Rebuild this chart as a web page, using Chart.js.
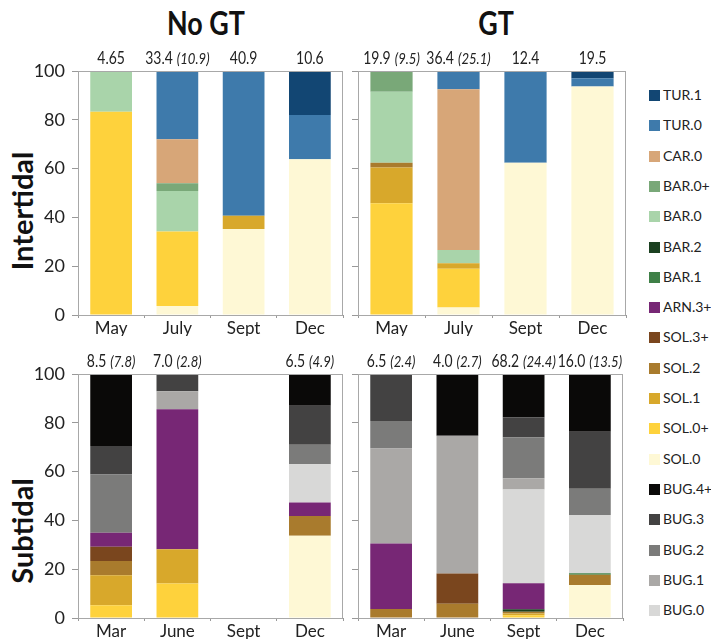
<!DOCTYPE html>
<html>
<head>
<meta charset="utf-8">
<script src="https://cdn.jsdelivr.net/npm/chart.js@4"></script>
<style>
body{margin:0;background:#fff;width:711px;height:639px;position:relative;overflow:hidden;font-family:Lato,sans-serif;}
canvas{position:absolute;}
.title{position:absolute;top:5px;font-family:Lato,sans-serif;font-weight:bold;font-size:32px;line-height:36px;color:#111;transform:translateX(-50%) scaleX(0.84);white-space:nowrap;}
.ytitle{position:absolute;font-family:Lato,sans-serif;font-weight:bold;font-size:29px;line-height:32px;color:#111;transform:translate(-50%,-50%) rotate(-90deg);white-space:nowrap;}
.item{position:absolute;left:649px;font:14px Lato,sans-serif;line-height:18px;color:#222;white-space:nowrap;}
.box{display:inline-block;width:11px;height:11px;margin-right:3px;vertical-align:-1px;}
</style>
</head>
<body>
<div class="title" style="left:206px">No GT</div>
<div class="title" style="left:496px">GT</div>
<div class="ytitle" style="left:22px;top:211px">Intertidal</div>
<div class="ytitle" style="left:22px;top:531px">Subtidal</div>
<div id="legend"></div>
<canvas id="c1" width="350" height="296" style="left:0;top:40px"></canvas>
<canvas id="c2" width="300" height="296" style="left:340px;top:40px"></canvas>
<canvas id="c3" width="350" height="299" style="left:0;top:340px"></canvas>
<canvas id="c4" width="300" height="299" style="left:340px;top:340px"></canvas>
<script>
// months
var intMonths = ['May', 'July', 'Sept', 'Dec'];
var subMonths = ['Mar', 'June', 'Sept', 'Dec'];

// percentage composition, one array per class (4 months)
var intNoGT = {
  'SOL.0':  [0, 3.7, 35.2, 63.8],
  'SOL.0+': [83.3, 30.5, 0, 0],
  'SOL.1':  [0, 0, 5.5, 0],
  'BAR.0':  [16.7, 16.6, 0, 0],
  'BAR.0+': [0, 3.2, 0, 0],
  'CAR.0':  [0, 18.0, 0, 0],
  'TUR.0':  [0, 28.0, 59.3, 18.2],
  'TUR.1':  [0, 0, 0, 18.0]
};
var intGT = {
  'SOL.0':  [0, 3.1, 62.4, 93.6],
  'SOL.0+': [45.8, 15.9, 0, 0],
  'SOL.1':  [14.6, 2.2, 0, 0],
  'SOL.2':  [2.0, 0, 0, 0],
  'BAR.0':  [29.1, 5.4, 0, 0],
  'BAR.0+': [8.5, 0, 0, 0],
  'CAR.0':  [0, 65.9, 0, 0],
  'TUR.0':  [0, 7.5, 37.6, 3.4],
  'TUR.1':  [0, 0, 0, 3.0]
};
var subNoGT = {
  'SOL.0':  [0, 0, 0, 33.7],
  'SOL.0+': [5.2, 14.1, 0, 0],
  'SOL.1':  [12.3, 14.1, 0, 0],
  'SOL.2':  [5.9, 0, 0, 8.1],
  'SOL.3+': [5.8, 0, 0, 0],
  'ARN.3+': [5.7, 57.4, 0, 5.5],
  'BUG.0':  [0, 0, 0, 15.7],
  'BUG.1':  [0, 7.3, 0, 0],
  'BUG.2':  [23.9, 0, 0, 8.0],
  'BUG.3':  [11.7, 7.1, 0, 16.0],
  'BUG.4+': [29.5, 0, 0, 13.0]
};
var subGT = {
  'SOL.0':  [0, 0, 0, 13.5],
  'SOL.0+': [0, 0, 1.1, 0],
  'SOL.1':  [0, 0, 0.7, 0],
  'SOL.2':  [3.7, 5.8, 0.8, 4.2],
  'SOL.3+': [0, 12.4, 0, 0],
  'BAR.1':  [0, 0, 0, 0.6],
  'BAR.2':  [0, 0, 1.0, 0],
  'ARN.3+': [26.8, 0, 10.6, 0],
  'BUG.0':  [0, 0, 38.5, 23.9],
  'BUG.1':  [39.0, 56.5, 4.6, 0],
  'BUG.2':  [11.2, 0, 16.8, 10.8],
  'BUG.3':  [19.3, 0, 8.2, 23.3],
  'BUG.4+': [0, 25.3, 17.7, 23.7]
};

// numbers printed above the bars: value and (sd)
var intNoGTNotes = [['4.65', ''], ['33.4', '(10.9)'], ['40.9', ''], ['10.6', '']];
var intGTNotes = [['19.9', '(9.5)'], ['36.4', '(25.1)'], ['12.4', ''], ['19.5', '']];
var subNoGTNotes = [['8.5', '(7.8)'], ['7.0', '(2.8)'], ['', ''], ['6.5', '(4.9)']];
var subGTNotes = [['6.5', '(2.4)'], ['4.0', '(2.7)'], ['68.2', '(24.4)'], ['16.0', '(13.5)']];

// stacking order, bottom first
var stackOrder = ['SOL.0', 'SOL.0+', 'SOL.1', 'SOL.2', 'SOL.3+', 'BAR.1', 'BAR.2', 'ARN.3+',
  'BAR.0', 'BAR.0+', 'CAR.0', 'TUR.0', 'TUR.1', 'BUG.0', 'BUG.1', 'BUG.2', 'BUG.3', 'BUG.4+'];
var legendOrder = ['TUR.1', 'TUR.0', 'CAR.0', 'BAR.0+', 'BAR.0', 'BAR.2', 'BAR.1', 'ARN.3+', 'SOL.3+',
  'SOL.2', 'SOL.1', 'SOL.0+', 'SOL.0', 'BUG.4+', 'BUG.3', 'BUG.2', 'BUG.1', 'BUG.0'];

var colors = {
  'TUR.1': '#124673', 'TUR.0': '#3e7aab', 'CAR.0': '#d7a678', 'BAR.0+': '#79a878',
  'BAR.0': '#a9d4aa', 'BAR.2': '#1b4020', 'BAR.1': '#3f8047', 'ARN.3+': '#772775',
  'SOL.3+': '#7a461e', 'SOL.2': '#a97b2d', 'SOL.1': '#d8a82b', 'SOL.0+': '#fed23c',
  'SOL.0': '#fef8d5', 'BUG.4+': '#0a0908', 'BUG.3': '#434242', 'BUG.2': '#7b7b7a',
  'BUG.1': '#aaa8a6', 'BUG.0': '#d8d8d7'
};

// legend
var lg = document.getElementById('legend');
legendOrder.forEach(function(name, i) {
  var d = document.createElement('div');
  d.className = 'item';
  d.style.top = (86 + i * 30.3) + 'px';
  d.innerHTML = '<span class="box" style="background:' + colors[name] + '"></span>' + name;
  lg.appendChild(d);
});

var squeeze = 0.82; // the figure uses a narrow font for these numbers

var notesPlugin = {
  id: 'notes',
  afterDraw: function(chart) {
    var ctx = chart.ctx;
    var notes = chart.options.plugins.notes.list;
    var area = chart.chartArea;
    // box round the plot
    ctx.save();
    ctx.strokeStyle = '#a8a8a8';
    ctx.lineWidth = 1;
    ctx.strokeRect(Math.round(area.left) + 0.5, Math.round(area.top) + 0.5,
      Math.round(area.right - area.left) - 1, Math.round(area.bottom - area.top));
    ctx.fillStyle = '#222';
    ctx.textBaseline = 'middle';
    ctx.textAlign = 'left';
    var y = area.top - 12;
    notes.forEach(function(n, i) {
      var x = chart.scales.x.getPixelForValue(i);
      ctx.font = '17px Lato';
      var w1 = ctx.measureText(n[0]).width;
      ctx.font = 'italic 16px Lato';
      var gap = n[1] ? 5 : 0;
      var w2 = ctx.measureText(n[1]).width;
      var total = (w1 + gap + w2) * squeeze;
      ctx.save();
      ctx.translate(x - total / 2, y);
      ctx.scale(squeeze, 1);
      ctx.font = '17px Lato';
      ctx.fillText(n[0], 0, 0);
      ctx.font = 'italic 16px Lato';
      ctx.fillText(n[1], w1 + gap, 0);
      ctx.restore();
    });
    ctx.restore();
  }
};

function makePanel(id, months, values, notes, showLabels, padTop, padRight) {
  var datasets = stackOrder.map(function(name) {
    return {
      label: name,
      data: values[name] || [0, 0, 0, 0],
      backgroundColor: colors[name],
      borderWidth: 0,
      barPercentage: 0.63,
      categoryPercentage: 1.0
    };
  });
  return new Chart(document.getElementById(id), {
    type: 'bar',
    data: { labels: months, datasets: datasets },
    options: {
      responsive: false,
      animation: false,
      layout: { padding: { top: padTop, right: padRight, left: 0, bottom: 0 } },
      plugins: {
        legend: { display: false },
        tooltip: { enabled: false },
        notes: { list: notes }
      },
      scales: {
        x: {
          stacked: true,
          grid: { drawOnChartArea: false, tickLength: 3, color: '#999' },
          border: { color: '#999' },
          ticks: { color: '#222', padding: 0, font: { family: 'Lato', size: 17 } },
          afterFit: function(s) { s.height = 21; }
        },
        y: {
          stacked: true,
          min: 0,
          max: 100,
          grid: { drawOnChartArea: false, tickLength: 6, color: '#999' },
          border: { color: '#999' },
          ticks: {
            stepSize: 10,
            color: '#222',
            padding: 7,
            font: { family: 'Lato', size: 18 },
            callback: function(v) { return (showLabels && v % 20 === 0) ? v : ''; }
          },
          afterFit: function(s) { s.width = showLabels ? 78 : 18; }
        }
      }
    },
    plugins: [notesPlugin]
  });
}

makePanel('c1', intMonths, intNoGT, intNoGTNotes, true, 31, 7);
makePanel('c2', intMonths, intGT, intGTNotes, false, 31, 14);
makePanel('c3', subMonths, subNoGT, subNoGTNotes, true, 34, 7);
makePanel('c4', subMonths, subGT, subGTNotes, false, 34, 17);
</script>
</body>
</html>
